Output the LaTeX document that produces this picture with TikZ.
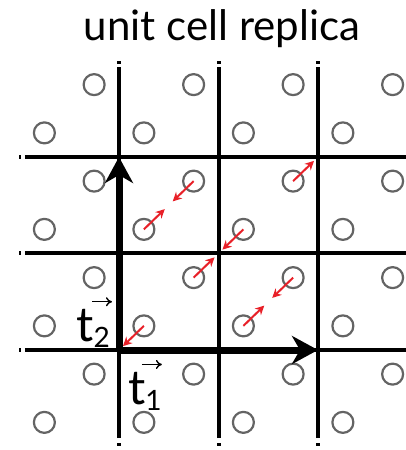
\documentclass[tikz,border=0pt]{standalone}
\usepackage{fontspec}
\setmainfont{Lato}
\usetikzlibrary{arrows.meta,calc}
\definecolor{bondred}{RGB}{232,32,40}
\definecolor{atomgray}{RGB}{100,100,100}
\tikzset{
  atom/.style={circle,draw=atomgray,line width=1.1pt,minimum size=10.5pt,inner sep=0pt},
  gridline/.style={line width=2pt},
  latvec/.style={line width=3.5pt,-{Stealth[length=13pt,width=14pt,inset=4pt]}},
  bond/.style={bondred,line width=1pt,-{Stealth[length=4.5pt,width=4.5pt]}},
  veclabel/.style={font=\fontsize{24}{26}\selectfont,inner sep=1pt},
  vecarrow/.style={line width=0.7pt,-{To[length=3pt,width=4.5pt]}},
}
\newcommand{\subidx}[1]{\raisebox{-3pt}{\fontsize{14}{14}\selectfont #1}}
\begin{document}
\begin{tikzpicture}[x=49.75pt,y=48.25pt]
  \useasboundingbox (-59.5pt,-50pt) rectangle (143.5pt,175pt);
  \node[font=\fontsize{21}{24}\selectfont] (title) at (1.035,3.33) {unit cell replica};
  % atoms, two per cell
  \foreach \i in {-1,...,2}
    \foreach \j in {-1,...,2} {
      \node[atom] (a\i\j) at (\i+0.25,\j+0.25) {};
      \node[atom] (b\i\j) at (\i+0.75,\j+0.75) {};
    }
  % cell boundaries
  \foreach \k in {0,1,2} {
    \draw[gridline] (\k,-0.912) -- (\k,2.933);
    \draw[gridline] (\k,-0.964) -- (\k,-0.995);
    \draw[gridline] (\k,2.964) -- (\k,2.995);
    \draw[gridline] (-0.945,\k) -- (2.945,\k);
    \draw[gridline] (-1.005,\k) -- (-0.985,\k);
    \draw[gridline] (2.985,\k) -- (3.005,\k);
  }
  % lattice vectors
  \coordinate (O) at (0,0);
  \coordinate (T1) at (2,0);
  \coordinate (T2) at (0,2);
  \draw[latvec] (O) -- (T1);
  \draw[latvec] (O) -- (T2);
  \node[veclabel] (t1lab) at (0.261,-0.43) {t\subidx{1}};
  \node[veclabel] (t2lab) at (-0.261,0.22) {t\subidx{2}};
  \draw[vecarrow] ($(t1lab.center)+(-0.03,0.28)$) -- ++(0.2,0);
  \draw[vecarrow] ($(t2lab.center)+(-0.01,0.28)$) -- ++(0.2,0);
  % bonds
  \foreach \s/\t in {a00/b-1-1, b00/a11, a11/b00, a01/b01, b01/a01, a10/b10, b10/a10, b11/a22}
    \draw[bond] (\s.center) -- ($(\s.center)!0.42!(\t.center)$);
\end{tikzpicture}
\end{document}
